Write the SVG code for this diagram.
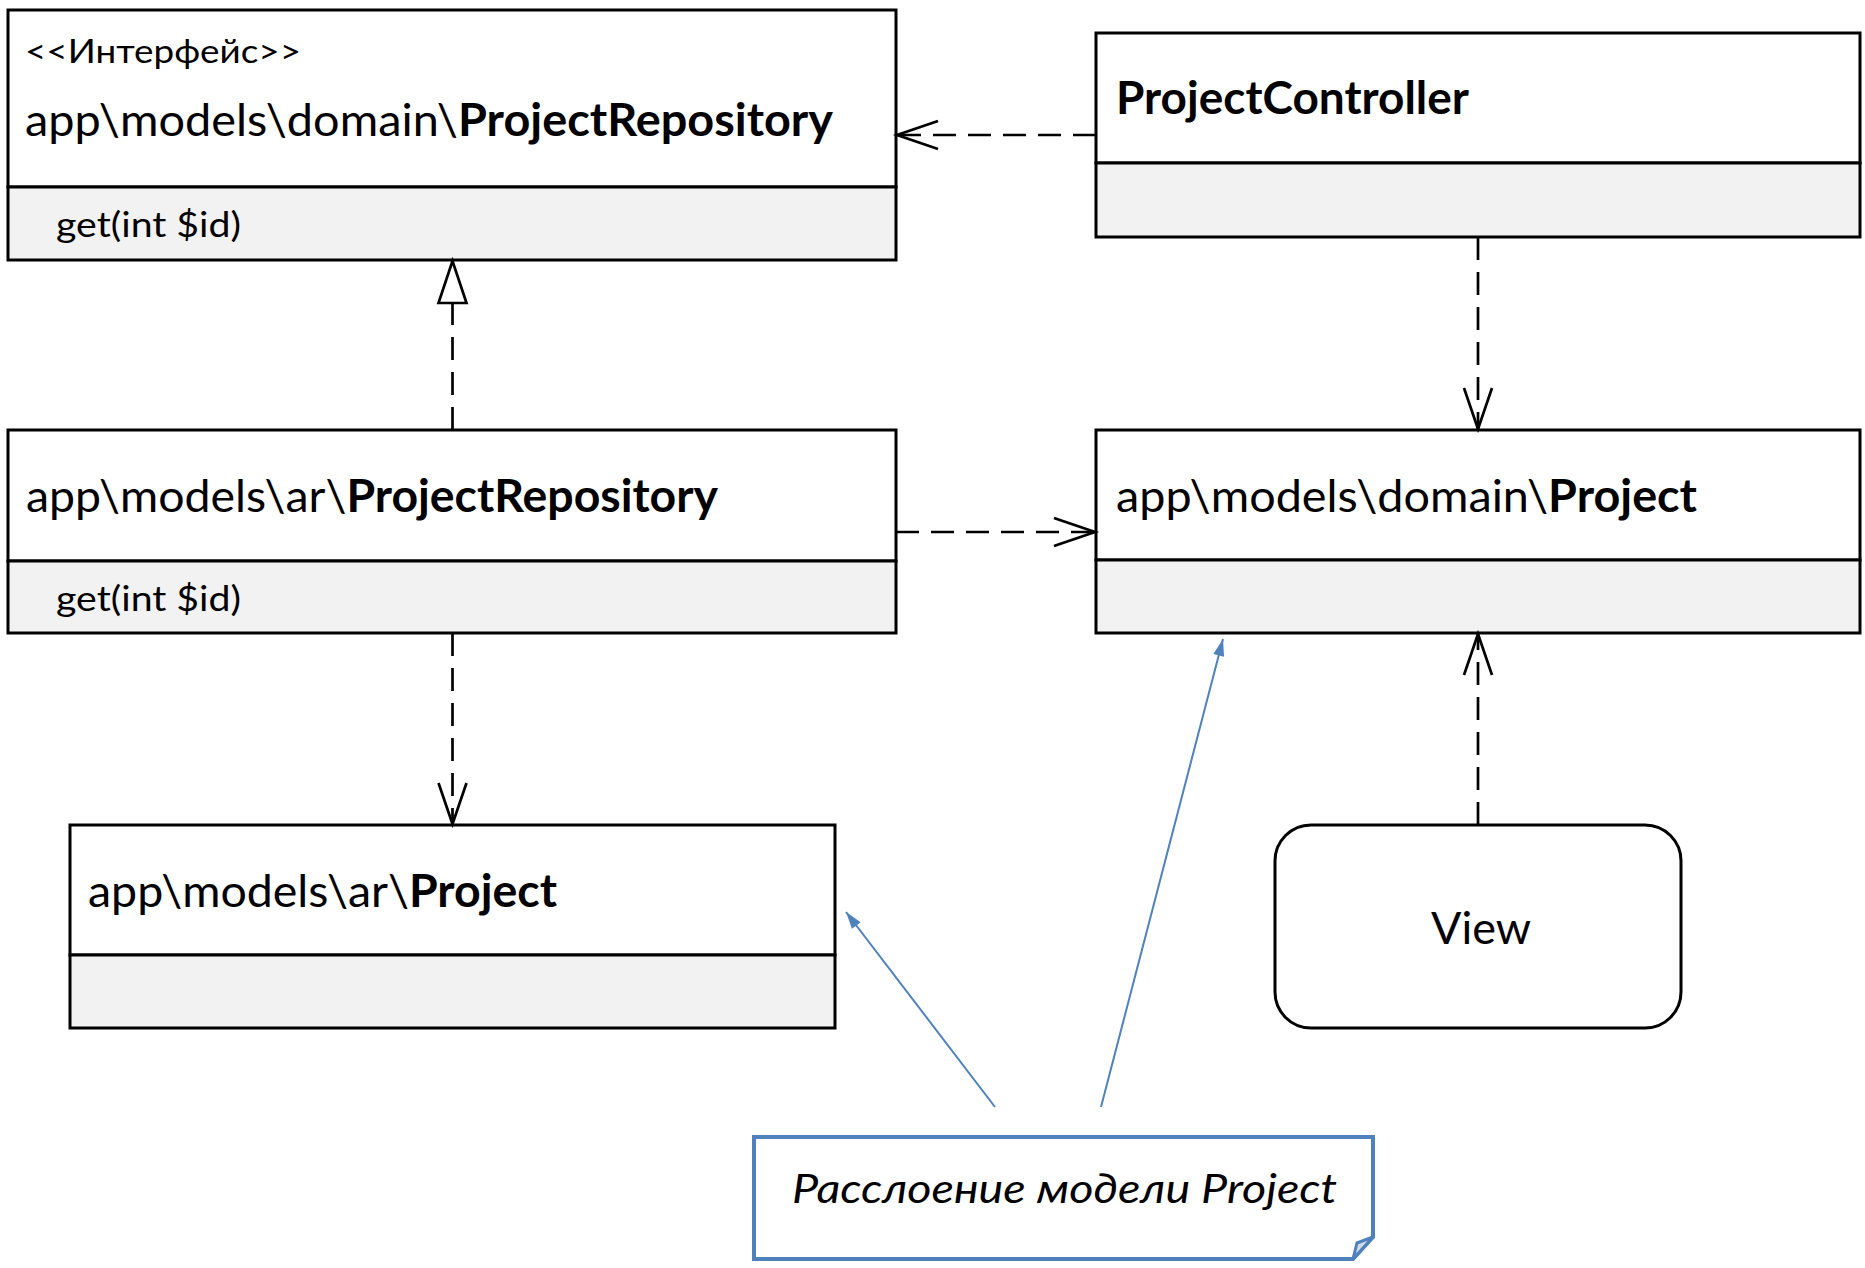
<svg xmlns="http://www.w3.org/2000/svg" width="1865" height="1268" viewBox="0 0 1865 1268">
  <style>
    .box { fill: #ffffff; stroke: #000000; stroke-width: 3; }
    .ops { fill: #f2f2f2; stroke: #000000; stroke-width: 3; }
    .txt { font-family: Lato, "Liberation Sans", sans-serif; fill: #000000; }
    .main { font-size: 45px; }
    .bold { font-weight: bold; }
    .stereo { font-size: 33px; }
    .op { font-size: 35px; }
    .note-txt { font-size: 41px; font-style: italic; }
    .dep { fill: none; stroke: #000000; stroke-width: 2.7; stroke-dasharray: 23 12; }
    .link { fill: none; stroke: #4f81bd; stroke-width: 2; }
  </style>
  <defs>
    <marker id="open" markerUnits="userSpaceOnUse" markerWidth="60" markerHeight="40" viewBox="-50 -20 60 40" refX="0" refY="0" orient="auto" overflow="visible">
      <path d="M-41,-14 L0,0 L-41,14" fill="none" stroke="#000000" stroke-width="2.7" stroke-dasharray="none"/>
    </marker>
    <marker id="hollow" markerUnits="userSpaceOnUse" markerWidth="60" markerHeight="40" viewBox="-50 -20 60 40" refX="0" refY="0" orient="auto" overflow="visible">
      <path d="M-42,-14 L0,0 L-42,14 Z" fill="#ffffff" stroke="#000000" stroke-width="2.7" stroke-dasharray="none"/>
    </marker>
    <marker id="solid" markerUnits="userSpaceOnUse" markerWidth="30" markerHeight="20" viewBox="-20 -10 30 20" refX="0" refY="0" orient="auto" overflow="visible">
      <path d="M-17,-5.5 L0,0 L-17,5.5 Z" fill="#4f81bd" stroke="none"/>
    </marker>
  </defs>

  <rect width="1865" height="1268" fill="#ffffff"/>

  <!-- Interface: domain repository -->
  <g id="domain-repository">
    <rect class="box" x="8" y="10" width="888" height="177"/>
    <rect class="ops" x="8" y="187" width="888" height="73"/>
    <text class="txt stereo" x="25" y="63" textLength="276" lengthAdjust="spacingAndGlyphs">&lt;&lt;Интерфейс&gt;&gt;</text>
    <text class="txt main" x="25" y="136" textLength="808" lengthAdjust="spacingAndGlyphs">app\models\domain\<tspan class="bold">ProjectRepository</tspan></text>
    <text class="txt op" x="56" y="237" textLength="185" lengthAdjust="spacingAndGlyphs">get(int $id)</text>
  </g>

  <!-- Controller -->
  <g id="project-controller">
    <rect class="box" x="1096" y="33" width="764" height="130"/>
    <rect class="ops" x="1096" y="163" width="764" height="74"/>
    <text class="txt main bold" x="1116" y="114" textLength="353" lengthAdjust="spacingAndGlyphs">ProjectController</text>
  </g>

  <!-- Active record repository -->
  <g id="ar-repository">
    <rect class="box" x="8" y="430" width="888" height="131"/>
    <rect class="ops" x="8" y="561" width="888" height="72"/>
    <text class="txt main" x="26" y="512" textLength="692" lengthAdjust="spacingAndGlyphs">app\models\ar\<tspan class="bold">ProjectRepository</tspan></text>
    <text class="txt op" x="56" y="611" textLength="185" lengthAdjust="spacingAndGlyphs">get(int $id)</text>
  </g>

  <!-- Domain model -->
  <g id="domain-project">
    <rect class="box" x="1096" y="430" width="764" height="130"/>
    <rect class="ops" x="1096" y="560" width="764" height="73"/>
    <text class="txt main" x="1116" y="512" textLength="581" lengthAdjust="spacingAndGlyphs">app\models\domain\<tspan class="bold">Project</tspan></text>
  </g>

  <!-- Active record model -->
  <g id="ar-project">
    <rect class="box" x="70" y="825" width="765" height="130"/>
    <rect class="ops" x="70" y="955" width="765" height="73"/>
    <text class="txt main" x="88" y="907" textLength="469" lengthAdjust="spacingAndGlyphs">app\models\ar\<tspan class="bold">Project</tspan></text>
  </g>

  <!-- View -->
  <g id="view">
    <rect class="box" x="1275" y="825" width="406" height="203" rx="36" ry="36"/>
    <text class="txt main" x="1431" y="944" textLength="100" lengthAdjust="spacingAndGlyphs">View</text>
  </g>

  <!-- Note -->
  <g id="note">
    <path d="M754,1137 H1373 V1237 L1353,1259 H754 Z" fill="#ffffff" stroke="#4f81bd" stroke-width="4"/>
    <path d="M1353,1259 L1357,1243 L1373,1237 Z" fill="#d3dbe8" stroke="#4f81bd" stroke-width="3"/>
    <text class="txt note-txt" x="792" y="1203" textLength="545" lengthAdjust="spacingAndGlyphs">Расслоение модели Project</text>
  </g>

  <!-- Connectors -->
  <g id="connectors">
    <line class="dep" x1="1096" y1="135" x2="897" y2="135" marker-end="url(#open)"/>
    <line class="dep" x1="1478" y1="237" x2="1478" y2="429" marker-end="url(#open)"/>
    <line class="dep" x1="896" y1="532" x2="1095" y2="532" marker-end="url(#open)"/>
    <line class="dep" x1="452.5" y1="633" x2="452.5" y2="824" marker-end="url(#open)"/>
    <line class="dep" x1="1478" y1="825" x2="1478" y2="634" marker-end="url(#open)"/>
    <line class="dep" x1="452.5" y1="430" x2="452.5" y2="261" marker-end="url(#hollow)"/>
    <line class="link" x1="995" y1="1107" x2="846" y2="912" marker-end="url(#solid)"/>
    <line class="link" x1="1101" y1="1107" x2="1223" y2="639" marker-end="url(#solid)"/>
  </g>
</svg>
